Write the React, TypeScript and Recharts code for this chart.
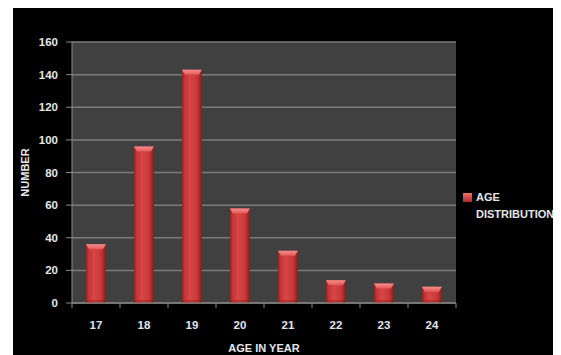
import React from 'react';
import { BarChart, Bar, XAxis, YAxis, CartesianGrid } from 'recharts';

const ages = ['17', '18', '19', '20', '21', '22', '23', '24'];
const counts = [36, 96, 143, 58, 32, 14, 12, 10];
const yTicks = [0, 20, 40, 60, 80, 100, 120, 140, 160];
const seriesName = 'AGE DISTRIBUTION';
const xTitle = 'AGE IN YEAR';
const yTitle = 'NUMBER';

const data = ages.map((a, i) => ({ age: a, value: counts[i] }));

const W = 548;
const H = 348;
const M = { top: 35, right: 105, bottom: 0, left: 0 };
const Y_W = 59;
const X_H = 52;
const HALF_BAND = (W - M.left - M.right - Y_W) / ages.length / 2;
const FONT = '"Liberation Sans", Arial, sans-serif';
const TEXT = '#e6e6e6';
const AXIS = '#8c8c8c';

const BarShape = (props: any) => {
  const x = Number(props.x);
  const y = Number(props.y);
  const width = Number(props.width);
  const height = Number(props.height);
  const index = props.index;
  if (!height || height <= 0 || !width) return null;
  const cap = Math.min(5, height);
  const bid = `barBody${index}`;
  const cid = `barCap${index}`;
  return (
    <g>
      <defs>
        <linearGradient id={bid} x1="0" y1="0" x2="1" y2="0">
          <stop offset="0%" stopColor="#8e2020" />
          <stop offset="12%" stopColor="#c23434" />
          <stop offset="40%" stopColor="#d84444" />
          <stop offset="75%" stopColor="#c83a3a" />
          <stop offset="100%" stopColor="#861c1c" />
        </linearGradient>
        <linearGradient id={cid} x1="0" y1="0" x2="0" y2="1">
          <stop offset="0%" stopColor="#f49090" />
          <stop offset="100%" stopColor="#e25858" />
        </linearGradient>
      </defs>
      <rect x={x} y={y} width={width} height={height} fill={`url(#${bid})`} />
      <polygon
        points={`${x},${y} ${x + width},${y} ${x + width - 3},${y + cap} ${x + 3},${y + cap}`}
        fill={`url(#${cid})`}
      />
      <rect x={x} y={y + height - 3} width={width} height={3} fill="#7a1a1a" opacity={0.35} />
    </g>
  );
};

const XTick = (props: any) => {
  const { x, y, payload, index } = props;
  const axisY = y - 5;
  return (
    <g>
      <line x1={x - HALF_BAND} y1={axisY} x2={x - HALF_BAND} y2={axisY + 5} stroke={AXIS} strokeWidth={1} />
      {index === ages.length - 1 && (
        <line x1={x + HALF_BAND} y1={axisY} x2={x + HALF_BAND} y2={axisY + 5} stroke={AXIS} strokeWidth={1} />
      )}
      <text
        x={x}
        y={axisY + 22}
        textAnchor="middle"
        dominantBaseline="central"
        fill={TEXT}
        fontSize={11.5}
        fontWeight="bold"
        fontFamily={FONT}
      >
        {payload.value}
      </text>
    </g>
  );
};

const XLabel = (props: any) => {
  const { viewBox } = props;
  return (
    <text
      x={viewBox.x + viewBox.width / 2}
      y={340.5}
      textAnchor="middle"
      dominantBaseline="central"
      fill={TEXT}
      fontSize={11}
      fontWeight="bold"
      fontFamily={FONT}
    >
      {xTitle}
    </text>
  );
};

const YLabel = (props: any) => {
  const { viewBox } = props;
  const cx = 12;
  const cy = viewBox.y + viewBox.height / 2;
  return (
    <text
      x={cx}
      y={cy}
      transform={`rotate(-90, ${cx}, ${cy})`}
      textAnchor="middle"
      dominantBaseline="central"
      fill={TEXT}
      fontSize={11}
      fontWeight="bold"
      fontFamily={FONT}
    >
      {yTitle}
    </text>
  );
};

const LegendBox = () => {
  const words = seriesName.split(' ');
  return (
    <div
      style={{
        position: 'absolute',
        left: 450,
        top: 186,
        width: 100,
        height: 40,
        fontFamily: FONT,
        fontWeight: 'bold',
        fontSize: 11,
        color: TEXT,
      }}
    >
      <div
        style={{
          position: 'absolute',
          left: 0,
          top: 0,
          width: 9,
          height: 9,
          background: 'linear-gradient(#f07070, #b02a2a)',
        }}
      />
      <div style={{ position: 'absolute', left: 13, top: -4, lineHeight: '17px', whiteSpace: 'nowrap' }}>
        {words[0]}
        <br />
        {words.slice(1).join(' ')}
      </div>
    </div>
  );
};

export default function App() {
  return (
    <div style={{ position: 'relative', marginLeft: 5, marginTop: -1, width: W, height: H, background: '#000' }}>
      <BarChart width={W} height={H} data={data} margin={M} barCategoryGap="29%">
        <CartesianGrid vertical={false} stroke="#7c7c7c" strokeWidth={1.5} fill="#404040" />
        <XAxis
          dataKey="age"
          height={X_H}
          axisLine={{ stroke: AXIS }}
          tickLine={false}
          tickSize={5}
          tickMargin={0}
          tick={<XTick />}
          interval={0}
          label={<XLabel />}
        />
        <YAxis
          width={Y_W}
          domain={[0, 160]}
          ticks={yTicks}
          interval={0}
          axisLine={{ stroke: AXIS }}
          tickLine={{ stroke: AXIS }}
          tickSize={6}
          tickMargin={8}
          tick={{ fill: TEXT, fontSize: 11.5, fontWeight: 'bold', fontFamily: FONT }}
          label={<YLabel />}
        />
        <Bar dataKey="value" name={seriesName} shape={<BarShape />} isAnimationActive={false} />
      </BarChart>
      <LegendBox />
    </div>
  );
}
